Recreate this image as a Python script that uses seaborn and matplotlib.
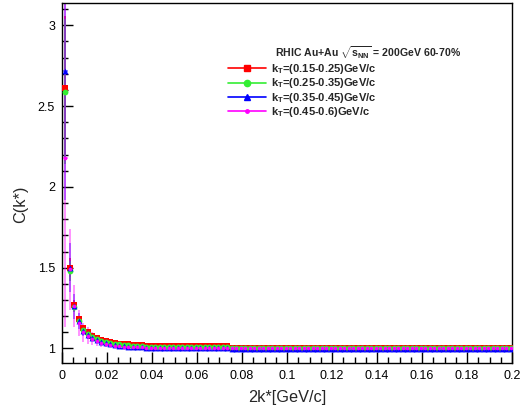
import numpy as np
import pandas as pd
import seaborn as sns
import matplotlib.pyplot as plt
from matplotlib.lines import Line2D
from matplotlib.ticker import MultipleLocator

# bin centres of the 2k* histogram (bin width 0.002 GeV/c)
k_bins = np.round(0.0015 + 0.002 * np.arange(100), 4)

labels = [
    r"k$_\mathrm{T}$=(0.15-0.25)GeV/c",
    r"k$_\mathrm{T}$=(0.25-0.35)GeV/c",
    r"k$_\mathrm{T}$=(0.35-0.45)GeV/c",
    r"k$_\mathrm{T}$=(0.45-0.6)GeV/c",
]

c_kt1 = ([2.61, 1.50, 1.27, 1.18, 1.125, 1.10, 1.08, 1.065, 1.055, 1.045,
          1.04, 1.035, 1.03, 1.028, 1.025, 1.022, 1.02, 1.02, 1.018, 1.016]
         + [1.014] * 17 + [1.0] * 63)
c_kt2 = ([2.59, 1.48, 1.255, 1.17, 1.115, 1.09, 1.07, 1.057, 1.047, 1.04,
          1.035, 1.03, 1.027, 1.024, 1.02, 1.018, 1.016, 1.014, 1.012, 1.01]
         + [1.008] * 17 + [1.004] * 63)
c_kt3 = ([2.72, 1.50, 1.26, 1.17, 1.11, 1.085, 1.065, 1.05, 1.04, 1.033,
          1.027, 1.022, 1.018, 1.015, 1.012, 1.01, 1.008, 1.006, 1.005, 1.004]
         + [1.002] * 17 + [0.999] * 63)
c_kt4 = ([2.18, 1.49, 1.26, 1.16, 1.10, 1.08, 1.06, 1.045, 1.035, 1.028,
          1.022, 1.018, 1.015, 1.012, 1.01, 1.008, 1.007, 1.006, 1.005, 1.005]
         + [1.004] * 17 + [1.001] * 63)

e_kt1 = [0.45, 0.06, 0.03, 0.02, 0.015, 0.012, 0.01, 0.008] + [0.004] * 92
e_kt2 = [0.45, 0.06, 0.03, 0.02, 0.015, 0.012, 0.01, 0.008] + [0.004] * 92
e_kt3 = [0.80, 0.15, 0.08, 0.05, 0.035, 0.025, 0.02, 0.015] + [0.005] * 92
e_kt4 = [1.05, 0.25, 0.13, 0.08, 0.06, 0.05, 0.04, 0.03, 0.025, 0.02] + [0.006] * 90

colors = ["#ff0000", "#33ee33", "#0000ff", "#ff00ff"]
markers = ["s", "o", "^", "o"]
msizes = [4.6, 4.2, 4.2, 2.6]
err_alpha = [1.0, 1.0, 0.55, 0.5]

df = pd.concat([
    pd.DataFrame({"k": k_bins, "C": c, "err": e, "kT": lab})
    for c, e, lab in zip([c_kt1, c_kt2, c_kt3, c_kt4],
                         [e_kt1, e_kt2, e_kt3, e_kt4], labels)
])

sns.set_style("ticks")
plt.rcParams["font.family"] = ["Liberation Sans", "DejaVu Sans"]
plt.rcParams["mathtext.fontset"] = "custom"
plt.rcParams["mathtext.rm"] = "Liberation Sans:bold"
plt.rcParams["mathtext.bf"] = "Liberation Sans:bold"

fig = plt.figure(figsize=(5.22, 4.16), dpi=100)
ax = fig.add_axes([62 / 522, 1 - 363 / 416, 450 / 522, 360 / 416])

for lab, col, mk, ms, al in zip(labels, colors, markers, msizes, err_alpha):
    sub = df[df["kT"] == lab]
    ax.errorbar(sub["k"], sub["C"], yerr=sub["err"], xerr=0.001, fmt="none",
                ecolor=col, elinewidth=1.2, alpha=al, zorder=2)
    sns.scatterplot(data=sub, x="k", y="C", ax=ax, color=col, marker=mk,
                    s=ms ** 2, linewidth=0, zorder=3, legend=False)

ax.set_xlim(0, 0.2)
ax.set_ylim(0.91, 3.138)
ax.xaxis.set_minor_locator(MultipleLocator(0.005))
ax.yaxis.set_minor_locator(MultipleLocator(0.1))
ax.set_xticks(np.arange(0, 0.201, 0.02))
ax.set_xticklabels(["0", "0.02", "0.04", "0.06", "0.08", "0.1", "0.12",
                    "0.14", "0.16", "0.18", "0.2"])
ax.set_yticks([1, 1.5, 2, 2.5, 3])
ax.set_yticklabels(["1", "1.5", "2", "2.5", "3"])
ax.tick_params(which="both", direction="in", labelsize=9, color="black",
               labelcolor="black", width=1)
ax.tick_params(which="major", length=8, pad=5)
ax.tick_params(which="minor", length=4)
for sp in ax.spines.values():
    sp.set_color("black")
    sp.set_linewidth(1)

ax.set_xlabel("2k*[GeV/c]", fontsize=11.7, labelpad=6)
ax.set_ylabel("C(k*)", fontsize=11.7)
ax.yaxis.set_label_coords(-0.075, 0.44)

fig.text(275 / 522, 1 - 53 / 416,
         r"RHIC Au+Au $\sqrt{\mathrm{s}_\mathrm{NN}}$ = 200GeV 60-70%",
         fontsize=7.6, fontweight="bold", va="center", ha="left")

handles = [Line2D([], [], color=c, marker=m, markersize=s, lw=1.2)
           for c, m, s in zip(colors, markers, [4.5, 4.5, 4, 2.5])]
ax.legend(handles, labels, loc="upper left",
          bbox_to_anchor=(228 / 522, 1 - 62 / 416),
          bbox_transform=fig.transFigure, frameon=False,
          prop={"weight": "bold", "size": 8}, handlelength=3.4,
          handletextpad=0.5, labelspacing=0.04, borderpad=0, borderaxespad=0)

fig.savefig("out.png", dpi=100)
